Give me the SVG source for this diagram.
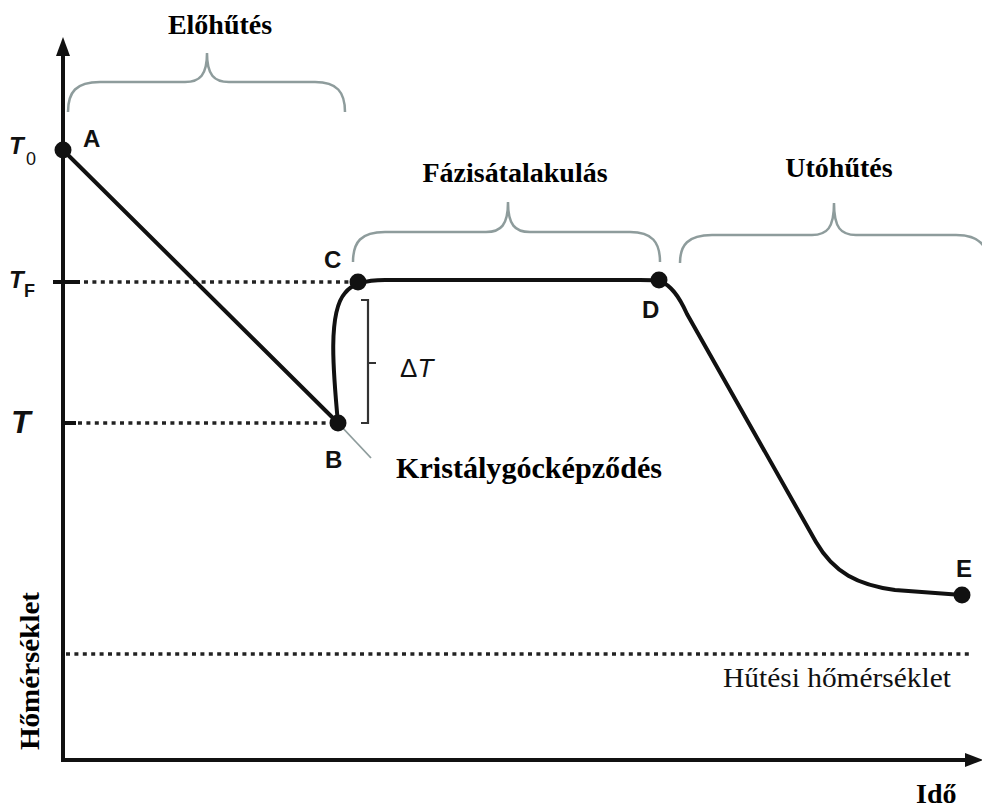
<svg xmlns="http://www.w3.org/2000/svg" width="982" height="808" viewBox="0 0 982 808">
<style>
.axis{stroke:#111;stroke-width:4;fill:none}
.curve{stroke:#111;stroke-width:4;fill:none;stroke-linejoin:round;stroke-linecap:round}
.dot{fill:#111}
.dotted{stroke:#222;stroke-width:3.5;stroke-dasharray:4 4.4;fill:none}
.brace{stroke:#8e9c9c;stroke-width:2.5;fill:none}
.thin{stroke:#8e9c9c;stroke-width:1.8;fill:none}
.bracket{stroke:#333;stroke-width:2.2;fill:none}
.lbl{font-family:"Liberation Sans",Arial,sans-serif;font-weight:bold;font-size:24px;fill:#111}
.sans{font-family:"Liberation Sans",Arial,sans-serif;font-size:26px;fill:#111}
.ttl{font-family:"Liberation Serif","Times New Roman",serif;font-weight:bold;font-size:28px;fill:#000}
.reg{font-family:"Liberation Serif","Times New Roman",serif;font-size:28px;fill:#111}
</style>
<rect width="982" height="808" fill="#fff"/>
<g id="axes">
<line class="axis" x1="63" y1="762" x2="63" y2="52"/>
<polygon points="63,37 56,56 70,56" fill="#111"/>
<line class="axis" x1="61" y1="760" x2="968" y2="760"/>
<polygon points="983,760 965,753 965,767" fill="#111"/>
<line class="axis" x1="53" y1="282" x2="80" y2="282"/>
<line class="axis" x1="61" y1="423" x2="76" y2="423"/>
</g>
<g id="connectors">
<line class="dotted" x1="84" y1="282" x2="350" y2="282"/>
<line class="dotted" x1="78" y1="423" x2="332" y2="423"/>
<line class="dotted" x1="66" y1="654" x2="970" y2="654"/>
<line class="curve" x1="63" y1="150" x2="338" y2="423"/>
<path class="curve" d="M338,423 C333,370 328,312 345,293 C351,285 362,280 385,280 L640,280 Q655,280 660,281 C670,285 678,294 687,314 L816,542 C834,573 858,585 895,590 L962,595"/>
<line class="thin" x1="340" y1="425" x2="371" y2="458"/>
<path class="bracket" d="M361,300 L368,300 L368,423 L361,423 M368,363 L376,363"/>
</g>
<g id="braces">
<path class="brace" d="M68,112 C68,92 76,82 100,82 L185,82 C200,82 207,75 207,53 C207,75 214,82 229,82 L315,82 C337,82 345,92 345,112"/>
<path class="brace" d="M353,262 C353,242 361,232 385,232 L486,232 C501,232 508,225 508,202 C508,225 515,232 530,232 L630,232 C652,232 660,242 660,262"/>
<path class="brace" d="M680,263 C680,245 688,235 712,235 L812,235 C827,235 834,228 834,203 C834,228 841,235 856,235 L956,235 C978,235 988,245 988,263"/>
</g>
<g id="nodeA"><circle class="dot" cx="63" cy="150" r="8.5"/><text class="lbl" x="83" y="147" font-size="25">A</text></g>
<g id="nodeB"><circle class="dot" cx="338" cy="423" r="8.5"/><text class="lbl" x="325" y="468">B</text></g>
<g id="nodeC"><circle class="dot" cx="358" cy="282" r="8.5"/><text class="lbl" x="324" y="268">C</text></g>
<g id="nodeD"><circle class="dot" cx="659" cy="280" r="8.5"/><text class="lbl" x="642" y="318">D</text></g>
<g id="nodeE"><circle class="dot" cx="962" cy="595" r="8.5"/><text class="lbl" x="956" y="577">E</text></g>
<g id="axis-labels">
<text class="lbl" x="9" y="154" font-style="italic">T</text>
<text class="sans" x="26" y="165" style="font-size:18px">0</text>
<text class="lbl" x="9" y="288" font-style="italic">T</text>
<text class="sans" x="24" y="297" style="font-size:18px;font-weight:bold">F</text>
<text class="lbl" x="11" y="433" style="font-size:32px;font-style:italic">T</text>
<text class="sans" x="400" y="377">Δ<tspan font-style="italic">T</tspan></text>
<text class="ttl" x="220" y="34" text-anchor="middle">Előhűtés</text>
<text class="ttl" x="515" y="182" text-anchor="middle">Fázisátalakulás</text>
<text class="ttl" x="839" y="177" text-anchor="middle">Utóhűtés</text>
<text class="ttl" x="396" y="478" style="font-size:29px" textLength="266" lengthAdjust="spacingAndGlyphs">Kristálygócképződés</text>
<text class="reg" x="723" y="687" textLength="228" lengthAdjust="spacingAndGlyphs">Hűtési hőmérséklet</text>
<text class="ttl" x="916" y="803">Idő</text>
<text class="ttl" transform="translate(39,750) rotate(-90)" textLength="158" lengthAdjust="spacingAndGlyphs">Hőmérséklet</text>
</g>
</svg>
